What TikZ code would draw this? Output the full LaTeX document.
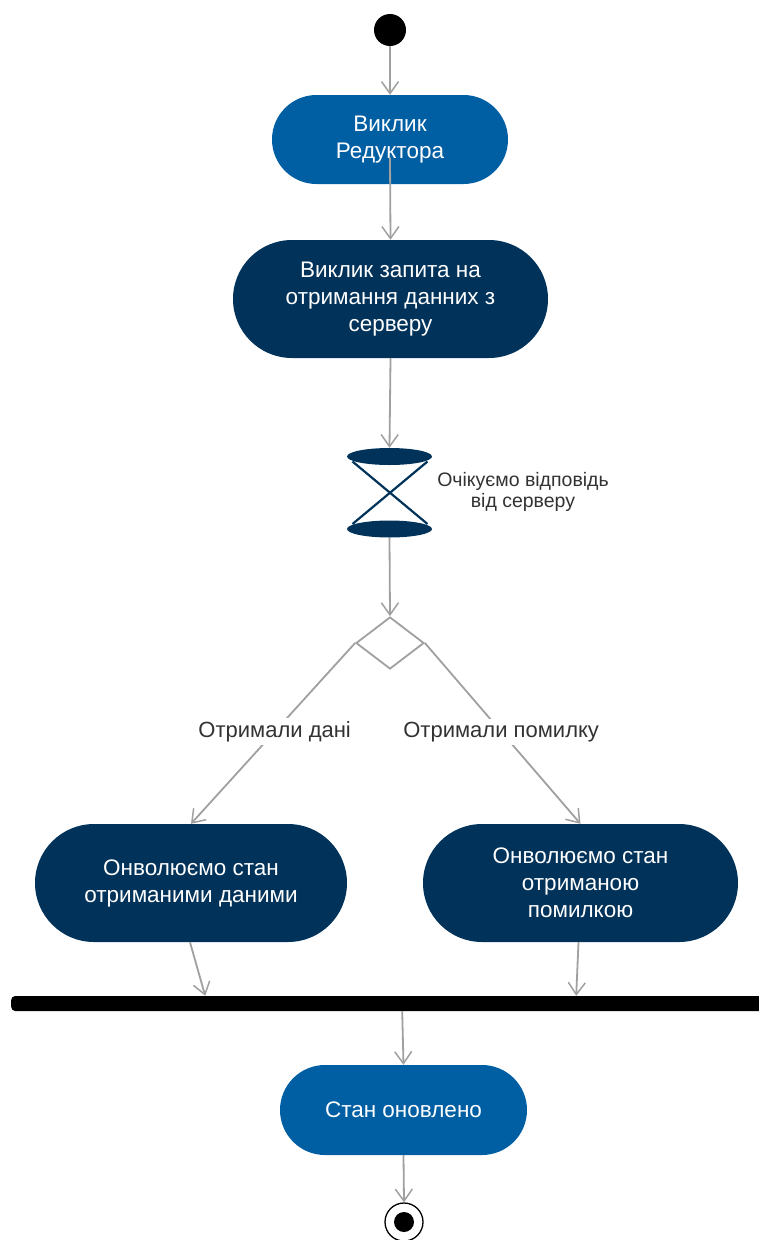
\documentclass[tikz,border=0pt]{standalone}
\usepackage{fontspec}
\setmainfont{Liberation Sans}
\usetikzlibrary{arrows.meta,shapes.misc,shapes.geometric}
\definecolor{actblue}{RGB}{0,94,163}
\definecolor{actnavy}{RGB}{0,50,90}
\definecolor{flowgray}{RGB}{160,160,160}
\definecolor{labelgray}{RGB}{50,50,50}
\tikzset{
  act/.style={rounded rectangle, draw=none, text=white, align=center, inner sep=0pt,
    font=\fontsize{22.5}{27}\selectfont},
  blueact/.style={act, fill=actblue},
  navyact/.style={act, fill=actnavy},
  flow/.style={draw=flowgray, line width=1.8pt, -{Straight Barb[length=12pt,width=17pt,line width=1.5pt]}},
  elabel/.style={fill=white, text=labelgray, inner sep=3pt, font=\fontsize{22}{26}\selectfont},
  sandglass/.style={ellipse, fill=actnavy, inner sep=0pt, minimum width=85pt, minimum height=17pt},
}
\begin{document}
\begin{tikzpicture}[x=1pt,y=-1pt]
\useasboundingbox (0,0) rectangle (759,1240);
% start
\node[circle, fill=black, minimum size=32pt, inner sep=0pt] (start) at (390,30) {};
% activities
\node[blueact, minimum width=236pt, minimum height=89pt] (n1) at (390,139.5) {Виклик\\Редуктора};
\node[navyact, minimum width=315pt, minimum height=118pt] (n2) at (390.5,299) {Виклик запита на\\отримання данних з\\серверу};
% hourglass
\node[sandglass] (wt) at (389.5,456.5) {};
\node[sandglass] (wb) at (389.5,529) {};
\draw[actnavy, line width=2.2pt] ([xshift=-37pt,yshift=-5pt]wt.center) -- ([xshift=38pt,yshift=5pt]wb.center);
\draw[actnavy, line width=2.2pt] ([xshift=38pt,yshift=-5pt]wt.center) -- ([xshift=-37pt,yshift=5pt]wb.center);
\node[text=labelgray, align=center, font=\fontsize{19.5}{21}\selectfont] (wlab) at (523,492) {Очікуємо відповідь\\від серверу};
% decision
\node[diamond, draw=flowgray, line width=1.8pt, fill=white, minimum width=68pt, minimum height=52pt, inner sep=0pt] (dec) at (390,643) {};
% branches
\node[navyact, minimum width=312pt, minimum height=118pt] (nl) at (191,883) {Онволюємо стан\\отриманими даними};
\node[navyact, minimum width=315pt, minimum height=118pt] (nr) at (580.5,883) {Онволюємо стан\\отриманою\\помилкою};
% join bar
\node[rectangle, fill=black, rounded corners=4pt, minimum width=780pt, minimum height=15pt, inner sep=0pt, anchor=west] (bar) at (11,1003.5) {};
% final activity
\node[blueact, minimum width=247pt, minimum height=90pt] (nf) at (403.5,1110) {Стан оновлено};
% end
\node[circle, draw=black, line width=1.3pt, fill=white, minimum size=38pt, inner sep=0pt] (end) at (404,1222) {};
\node[circle, fill=black, minimum size=20pt, inner sep=0pt] (endin) at (end.center) {};
% flows
\draw[flow] (start) -- (n1.north);
\draw[flow] ([yshift=-18pt]n1.center) -- (n2.north);
\draw[flow] (n2.south) -- (wt.north);
\draw[flow] (wb.south) -- (dec.north);
\draw[flow] (dec.west) -- (nl.north) node[elabel, pos=0.49] (ll) {Отримали дані};
\draw[flow] (dec.east) -- (nr.north) node[elabel, pos=0.49] (lr) {Отримали помилку};
\draw[flow] ([xshift=-1pt]nl.south) -- ([xshift=-196pt]bar.north);
\draw[flow] ([xshift=-2pt]nr.south) -- ([xshift=175pt]bar.north);
\draw[flow] ([xshift=1pt]bar.south) -- (nf.north);
\draw[flow] (nf.south) -- (end.north);
\end{tikzpicture}
\end{document}
